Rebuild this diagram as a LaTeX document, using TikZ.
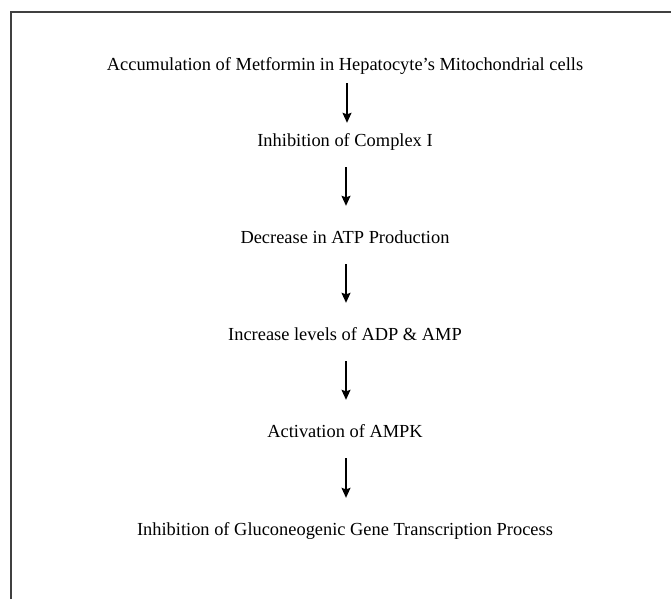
\documentclass[tikz,border=0pt]{standalone}
\usepackage{fontspec}
\setmainfont{Liberation Serif}
\usetikzlibrary{arrows.meta}

\begin{document}
\begin{tikzpicture}[
		x=1pt, y=-1pt,
		stage/.style={inner sep=0pt, text height=13pt, text depth=4pt, anchor=base, font=\fontsize{18.4}{22}\selectfont},
		flow/.style={-{Stealth[length=10pt, width=9pt, inset=1.5pt]}, line width=1.3pt, shorten <=17pt, shorten >=24pt},
		frame/.style={draw=black!75, line width=1.4pt}
		]
		
		% Page area and open frame
		\useasboundingbox (0,0) rectangle (671,599);
		\draw[frame] (11,599) -- (11,12) -- (671,12);
		
		% Stages
		\node[stage] (accum) at (345,71) {Accumulation of Metformin in Hepatocyte’s Mitochondrial cells};
		\node[stage] (complex) at (345,146) {Inhibition of Complex I};
		\node[stage] (atp) at (345,243) {Decrease in ATP Production};
		\node[stage] (adp) at (345,340) {Increase levels of ADP \& AMP};
		\node[stage] (ampk) at (345,437) {Activation of AMPK};
		\node[stage] (gluco) at (345,535) {Inhibition of Gluconeogenic Gene Transcription Process};
		
		% Arrows
		\draw[flow, shorten <=8pt, shorten >=10pt] ([xshift=2pt]accum.south) -- ([xshift=2pt]complex.north);
		\draw[flow] ([xshift=1pt]complex.south) -- ([xshift=1pt]atp.north);
		\draw[flow] ([xshift=1pt]atp.south) -- ([xshift=1pt]adp.north);
		\draw[flow] ([xshift=1pt]adp.south) -- ([xshift=1pt]ampk.north);
		\draw[flow] ([xshift=1pt]ampk.south) -- ([xshift=1pt]gluco.north);
	\end{tikzpicture}
\end{document}
